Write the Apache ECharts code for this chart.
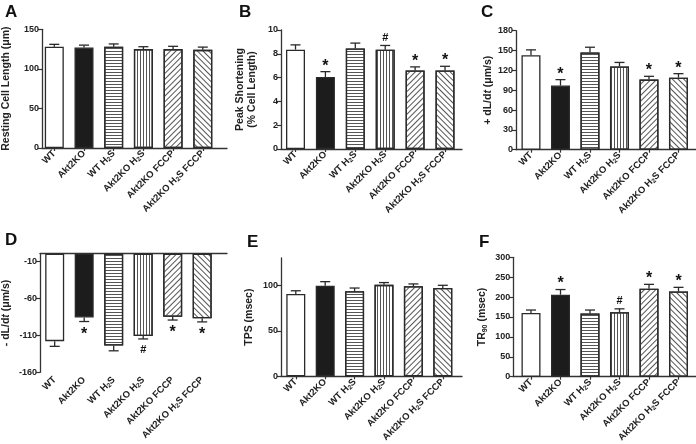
<!DOCTYPE html>
<html><head><meta charset="utf-8">
<script src="https://cdn.jsdelivr.net/npm/echarts@6/dist/echarts.min.js"></script>
<style>html,body{margin:0;padding:0;background:#fff}#c{width:696px;height:444px}</style>
</head><body><div id="c"></div>
<script>
// ---------------- data ----------------
const categories = ['WT', 'Akt2KO', 'WT H2S', 'Akt2KO H2S', 'Akt2KO FCCP', 'Akt2KO H2S FCCP'];

const restLenMean = [128, 127, 128, 125, 125, 124];
const restLenSem = [3, 3, 3.5, 3, 3.5, 3.5];
const restLenMarks = ['', '', '', '', '', ''];
const restLenTicks = [0, 50, 100, 150];

const peakShortMean = [8.35, 6.05, 8.45, 8.35, 6.6, 6.6];
const peakShortSem = [0.4, 0.45, 0.45, 0.35, 0.3, 0.35];
const peakShortMarks = ['', '*', '', '#', '*', '*'];
const peakShortTicks = [0, 2, 4, 6, 8, 10];

const plusDlDtMean = [143, 97, 147, 126, 106, 109];
const plusDlDtSem = [8, 9, 8, 6, 5, 6];
const plusDlDtMarks = ['', '*', '', '', '*', '*'];
const plusDlDtTicks = [0, 30, 60, 90, 120, 150, 180];

const minusDlDtMean = [-118, -86, -124, -111, -85, -87];
const minusDlDtSem = [7, 5.5, 7, 4, 4.5, 5];
const minusDlDtMarks = ['', '*', '', '#', '*', '*'];
const minusDlDtTicks = [-160, -110, -60, -10];

const tpsMean = [90.5, 99.5, 93.5, 100.5, 99, 97];
const tpsSem = [3.5, 4.5, 3.5, 2.5, 2.5, 3];
const tpsMarks = ['', '', '', '', '', ''];
const tpsTicks = [0, 50, 100];

const tr90Mean = [160, 206, 159, 162, 221, 214];
const tr90Sem = [7.5, 13, 8.5, 8.5, 11, 10.5];
const tr90Marks = ['', '*', '', '#', '*', '*'];
const tr90Ticks = [0, 50, 100, 150, 200, 250, 300];

// ---------------- styling ----------------
const FONT = "'Liberation Sans', Arial, Helvetica, sans-serif";
const INK = '#222';
const AX = '#333';
const catIdx = categories.map((c, i) => i);

function lineDecal(rot, gap) {
  return { symbol: 'rect', symbolSize: 1, dashArrayX: [1, 0], dashArrayY: [1, gap], rotation: rot, color: '#555' };
}
const barStyles = [
  { color: '#ffffff' },
  { color: '#1c1c1c' },
  { color: '#ffffff', decal: lineDecal(0, 2) },
  { color: '#ffffff', decal: lineDecal(Math.PI / 2, 2) },
  { color: '#ffffff', decal: lineDecal(-Math.PI / 4, 3) },
  { color: '#ffffff', decal: lineDecal(Math.PI / 4, 3) }
];

const panels = [
  { letter: 'A', grid: { left: 42, top: 29.3, width: 185, height: 118.7 }, xr: [-0.414, 5.815],
    mean: restLenMean, sem: restLenSem, marks: restLenMarks, ticks: restLenTicks, ymin: 0, ymax: 150,
    name: 'Resting Cell Length (μm)', nameGap: 30, title: [5, 4] },
  { letter: 'B', grid: { left: 281, top: 30, width: 181, height: 119 }, xr: [-0.485, 5.568],
    mean: peakShortMean, sem: peakShortSem, marks: peakShortMarks, ticks: peakShortTicks, ymin: 0, ymax: 10,
    name: 'Peak Shortening\n(% Cell Length)', nameGap: 23, title: [239, 4] },
  { letter: 'C', grid: { left: 516, top: 30.7, width: 180, height: 119 }, xr: [-0.508, 5.594],
    mean: plusDlDtMean, sem: plusDlDtSem, marks: plusDlDtMarks, ticks: plusDlDtTicks, ymin: 0, ymax: 180,
    name: '+ dL/d{i|t} (μm/s)', nameGap: 13, title: [481, 4] },
  { letter: 'D', grid: { left: 40, top: 253.7, width: 187, height: 118.6 }, xr: [-0.498, 5.841],
    mean: minusDlDtMean, sem: minusDlDtSem, marks: minusDlDtMarks, ticks: minusDlDtTicks, ymin: -160, ymax: 0,
    name: '- dL/d{i|t} (μm/s)', nameGap: 28, title: [5, 232], neg: true },
  { letter: 'E', grid: { left: 281, top: 258, width: 181, height: 118.3 }, xr: [-0.503, 5.653],
    mean: tpsMean, sem: tpsSem, marks: tpsMarks, ticks: tpsTicks, ymin: 0, ymax: 130,
    name: 'TPS (msec)', nameGap: 26, title: [247, 234] },
  { letter: 'F', grid: { left: 513.3, top: 257.3, width: 182.7, height: 119.4 }, xr: [-0.6, 5.593],
    mean: tr90Mean, sem: tr90Sem, marks: tr90Marks, ticks: tr90Ticks, ymin: 0, ymax: 300,
    name: 'TR{sub|90} (msec)', nameGap: 25, title: [479, 234] }
];

function catFormatter(v) {
  const c = categories[Math.round(v)];
  return c === undefined ? '' : c.replace('H2S', 'H{sub|2}S');
}

const grids = [], xAxes = [], yAxes = [], series = [], titles = [];

panels.forEach((p, gi) => {
  grids.push(Object.assign({ outerBoundsMode: 'none', containLabel: false }, p.grid));
  titles.push({ text: p.letter, left: p.title[0], top: p.title[1], padding: 0,
    textStyle: { fontFamily: FONT, fontSize: 17, fontWeight: 'bold', color: '#111' } });

  const xi = xAxes.length;
  xAxes.push({
    type: 'value', gridIndex: gi, min: p.xr[0], max: p.xr[1], position: 'bottom',
    axisLine: { show: !p.neg, onZero: false, lineStyle: { color: AX, width: 1.3 } },
    axisTick: { show: !p.neg, customValues: catIdx, length: 3, lineStyle: { color: AX, width: 1.2 } },
    splitLine: { show: false },
    axisLabel: {
      customValues: catIdx, rotate: 45, margin: p.neg ? 6 : 4, formatter: catFormatter,
      fontFamily: FONT, fontSize: 9.5, fontWeight: 'bold', color: INK,
      rich: { sub: { fontFamily: FONT, fontSize: 6.5, fontWeight: 'bold', color: INK, verticalAlign: 'bottom', padding: [4, 0, 0, 0] } }
    }
  });
  if (p.neg) {
    xAxes.push({
      type: 'value', gridIndex: gi, min: p.xr[0], max: p.xr[1], position: 'top',
      axisLine: { show: true, onZero: false, lineStyle: { color: AX, width: 1.3 } },
      axisTick: { show: false }, axisLabel: { show: false }, splitLine: { show: false }
    });
  }
  yAxes.push({
    type: 'value', gridIndex: gi, min: p.ymin, max: p.ymax, position: 'left',
    name: p.name, nameLocation: 'middle', nameGap: p.nameGap, nameRotate: 90,
    nameTextStyle: {
      fontFamily: FONT, fontSize: 10.5, fontWeight: 'bold', color: INK, lineHeight: 12,
      rich: {
        i: { fontFamily: FONT, fontSize: 10.5, fontWeight: 'bold', fontStyle: 'italic', color: INK },
        sub: { fontFamily: FONT, fontSize: 7, fontWeight: 'bold', color: INK, verticalAlign: 'bottom', padding: [5, 0, 0, 0] }
      }
    },
    axisLine: { show: true, onZero: false, lineStyle: { color: AX, width: 1.3 } },
    axisTick: { show: true, customValues: p.ticks, length: 4, lineStyle: { color: AX, width: 1.2 } },
    axisLabel: { customValues: p.ticks, margin: 3, fontFamily: FONT, fontSize: 9, fontWeight: 'bold', color: INK },
    splitLine: { show: false }
  });

  series.push({
    type: 'bar', xAxisIndex: xi, yAxisIndex: gi, barWidth: 19, animation: false,
    data: p.mean.map((v, i) => ({
      value: [i, v],
      itemStyle: Object.assign({ borderColor: '#2a2a2a', borderWidth: 1.3 }, barStyles[i])
    }))
  });

  const marks = p.marks;
  series.push({
    type: 'custom', xAxisIndex: xi, yAxisIndex: gi, animation: false, z: 5,
    data: p.mean.map((v, i) => [i, v, v < 0 ? v - p.sem[i] : v + p.sem[i]]),
    renderItem: function (params, api) {
      const i = params.dataIndex;
      const x = api.value(0), m = api.value(1), e = api.value(2);
      const p0 = api.coord([x, m]), p1 = api.coord([x, e]);
      const st = { stroke: '#2a2a2a', lineWidth: 1.3 };
      const children = [
        { type: 'line', shape: { x1: p0[0], y1: p0[1], x2: p1[0], y2: p1[1] }, style: st },
        { type: 'line', shape: { x1: p1[0] - 5, y1: p1[1], x2: p1[0] + 5, y2: p1[1] }, style: st }
      ];
      const mk = marks[i];
      if (mk) {
        const star = mk === '*';
        const below = m < 0;
        let y;
        if (below) y = p1[1] + (star ? 13 : 11);
        else y = p1[1] - (star ? 5.5 : 8);
        children.push({
          type: 'text',
          style: { text: mk, x: p1[0], y: y, align: 'center', verticalAlign: 'middle',
            fontFamily: FONT, fontSize: star ? 16 : 11, fontWeight: 'bold', fill: '#111' }
        });
      }
      return { type: 'group', children: children };
    }
  });
});

const chart = echarts.init(document.getElementById('c'), null, { renderer: 'canvas' });
chart.setOption({
  backgroundColor: '#ffffff',
  animation: false,
  title: titles,
  grid: grids,
  xAxis: xAxes,
  yAxis: yAxes,
  series: series
});
</script>
</body></html>
